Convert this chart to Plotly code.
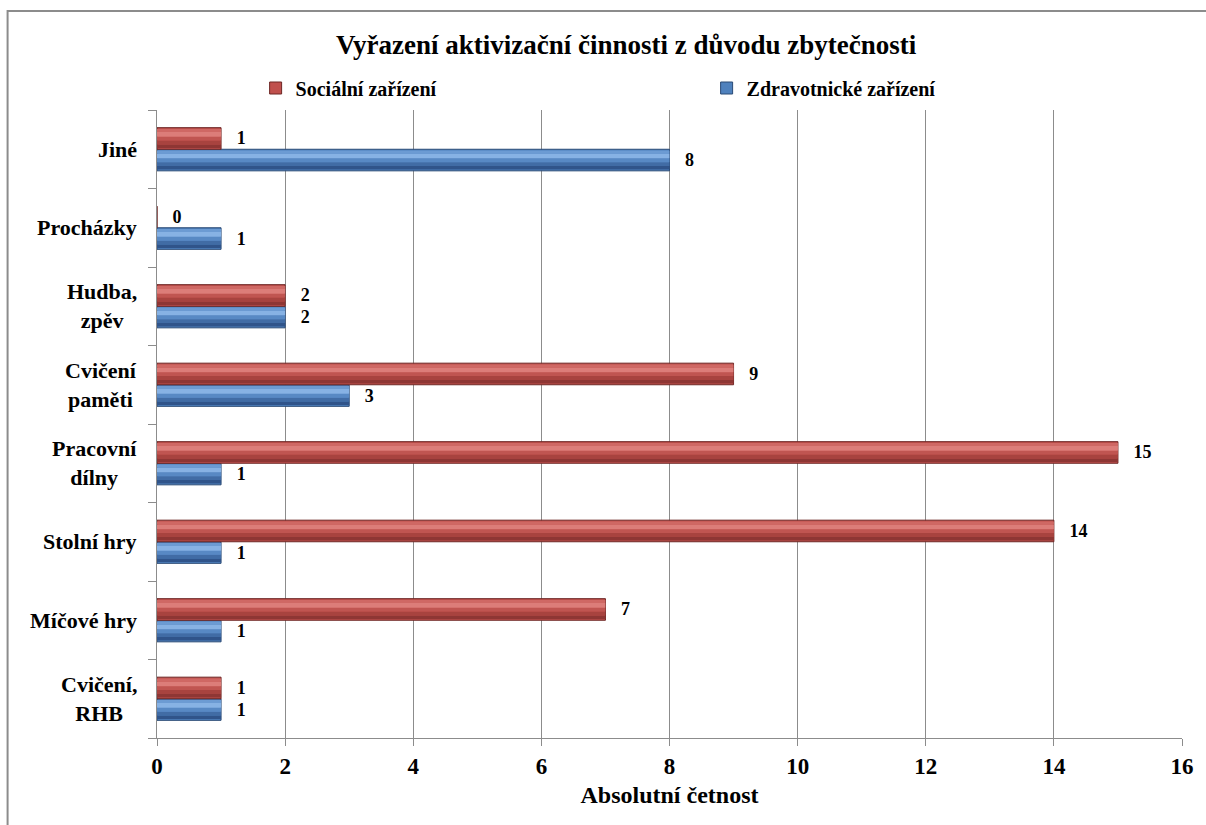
import plotly.graph_objects as go

# Activity categories (bottom to top) and counts for each facility type
categories = ["Cvičení,<br>RHB", "Míčové hry", "Stolní hry", "Pracovní<br>dílny",
              "Cvičení<br>paměti", "Hudba,<br>zpěv", "Procházky", "Jiné"]
socialni = [1, 7, 14, 15, 9, 2, 0, 1]
zdravotnicke = [1, 1, 1, 1, 3, 2, 1, 8]
x_ticks = [0, 2, 4, 6, 8, 10, 12, 14, 16]

FONT = "Liberation Serif"
L, R, T, B = 157, 20, 110, 87
W, H = 1206, 825
PW, PH = W - L - R, H - T - B

idx = list(range(len(categories)))
BW = 0.275  # bar thickness in category units

# horizontal shading bands (fraction of bar from bottom, colour) for a bevelled look
red_bands = [(0.06, 0.22, "#8E3634"), (0.22, 0.40, "#A8433F"), (0.40, 0.58, "#C05551"),
             (0.58, 0.80, "#DC7D79"), (0.80, 0.94, "#CF6864")]
blue_bands = [(0.06, 0.22, "#30548A"), (0.22, 0.40, "#416CA5"), (0.40, 0.58, "#5889C4"),
              (0.58, 0.80, "#87B2E4"), (0.80, 0.94, "#6C9BD3")]

series = [
    # name, values, offset, base colour, edge colour, bands, legend rank
    ("Zdravotnické zařízení", zdravotnicke, -BW, "#4F81BD", "#2A4A75", blue_bands, 2),
    ("Sociální zařízení", socialni, 0.0, "#C0504D", "#6E2725", red_bands, 1),
]

fig = go.Figure()
for name, vals, off, mid, dark, bands, rank in series:
    fig.add_trace(go.Bar(
        y=idx, x=vals, orientation="h", name=f"<b>{name}</b>", legendrank=rank,
        width=BW, offset=off,
        marker=dict(color=mid, line=dict(color=dark, width=1)),
        text=[f"\u2002\u2009<b>{v}</b>" for v in vals], textposition="outside",
        constraintext="none",
        textfont=dict(family=FONT, size=18, color="black"),
        cliponaxis=False,
    ))
    for lo, hi, col in bands:
        fig.add_trace(go.Bar(
            y=idx, x=vals, orientation="h", showlegend=False, hoverinfo="skip",
            width=BW * (hi - lo), offset=off + BW * lo,
            marker=dict(color=col, line=dict(width=0)),
        ))

# Category labels: right-aligned block, lines centred within it
for i, lab in enumerate(categories):
    fig.add_annotation(
        x=(139 - L) / PW, xref="paper", y=i, yref="y",
        text=f"<b>{lab}</b>", showarrow=False, xanchor="right", align="center",
        font=dict(family=FONT, size=22, color="black"),
    )

fig.update_layout(
    width=W, height=H,
    margin=dict(l=L, r=R, t=T, b=B),
    paper_bgcolor="white", plot_bgcolor="white",
    barmode="overlay",
    title=dict(text="<b>Vyřazení aktivizační činnosti z důvodu zbytečnosti</b>",
               x=(628 - L) / PW, xref="paper", xanchor="center",
               y=1 - 45 / H, yanchor="middle",
               font=dict(family=FONT, size=27, color="black")),
    legend=dict(orientation="h", x=(256 - L) / PW, xanchor="left",
                y=(H - B - 88) / PH, yanchor="middle",
                entrywidth=406, entrywidthmode="pixels",
                font=dict(family=FONT, size=20, color="black"),
                itemwidth=30, bgcolor="rgba(0,0,0,0)"),
    showlegend=True,
    xaxis=dict(range=[0, 16], tickvals=x_ticks,
               ticktext=[f"<b>{t}</b>" for t in x_ticks],
               tickfont=dict(family=FONT, size=23, color="black"),
               showgrid=True, gridcolor="#8C8C8C", gridwidth=1,
               showline=True, linecolor="#8C8C8C", linewidth=1,
               ticks="outside", ticklen=7, tickcolor="#8C8C8C",
               zeroline=False,
               title=dict(text="<b>Absolutní četnost</b>", standoff=8,
                          font=dict(family=FONT, size=24, color="black"))),
    yaxis=dict(range=[-0.5, len(categories) - 0.5],
               tickvals=[i - 0.5 for i in idx] + [len(categories) - 0.5],
               showticklabels=False, showgrid=False,
               showline=True, linecolor="#8C8C8C", linewidth=1,
               ticks="outside", ticklen=8, tickcolor="#8C8C8C",
               zeroline=False),
    shapes=[dict(type="rect", xref="paper", yref="paper",
                 x0=(7 - L) / PW, x1=(1230 - L) / PW,
                 y0=(H - B - 850) / PH, y1=(H - B - 11) / PH,
                 line=dict(color="#8C8C8C", width=2), fillcolor="rgba(0,0,0,0)",
                 layer="below")],
)

fig.write_html("out.html")
